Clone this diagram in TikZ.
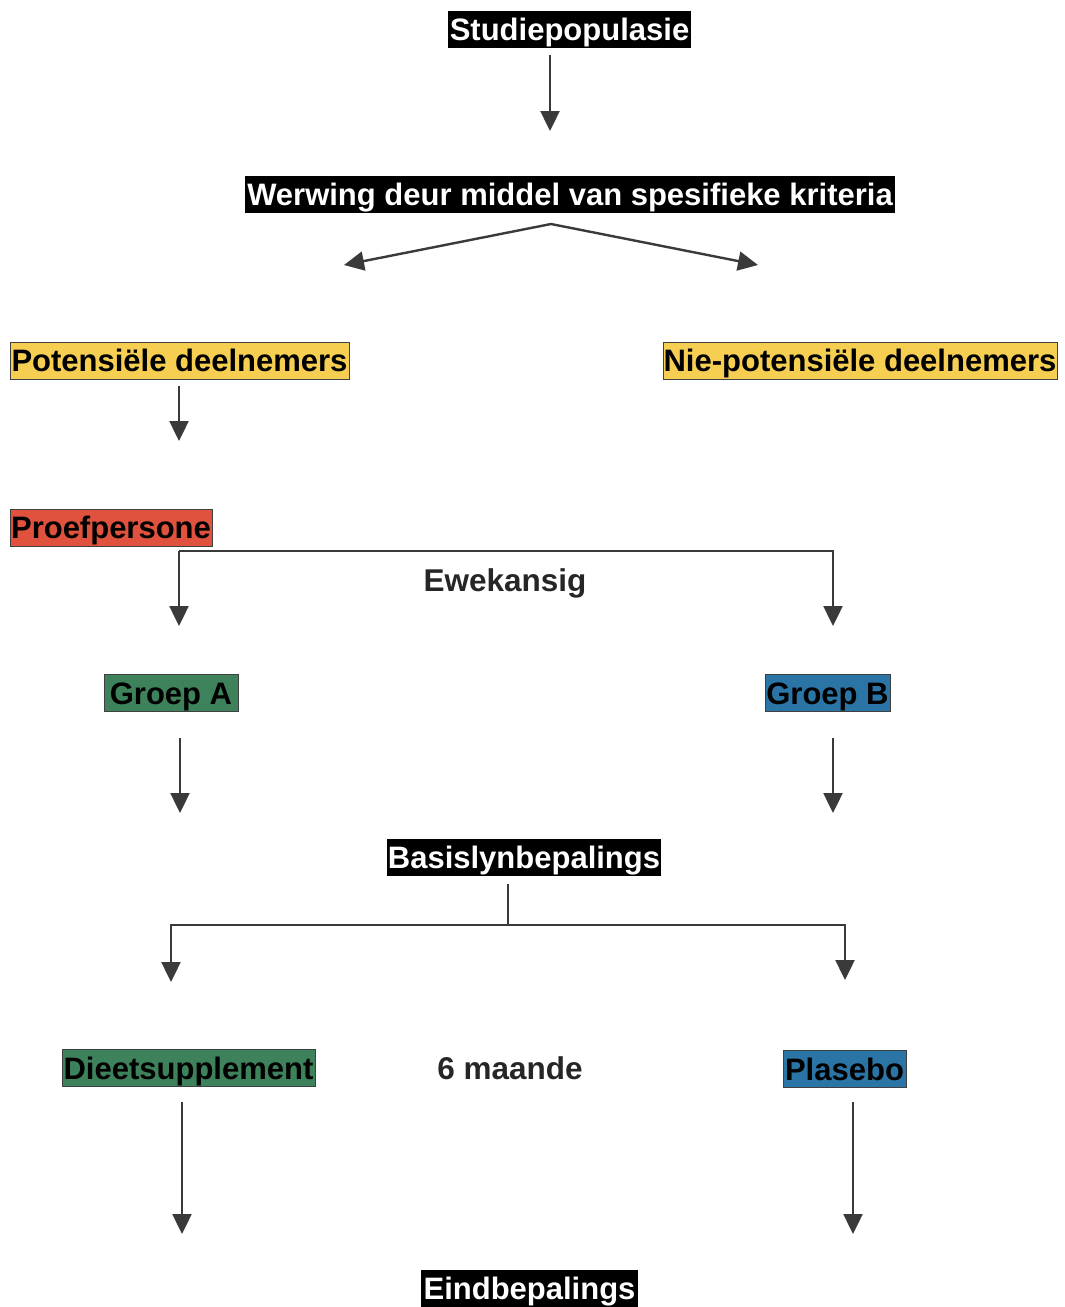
\documentclass[tikz,border=0pt]{standalone}
\usepackage{fontspec}
\setmainfont{Liberation Sans}
\usetikzlibrary{arrows.meta}
\definecolor{cyel}{RGB}{246,206,82}
\definecolor{cred}{RGB}{224,82,62}
\definecolor{cgrn}{RGB}{62,130,92}
\definecolor{cblu}{RGB}{42,116,166}
\definecolor{cline}{RGB}{58,58,58}
\tikzset{
  box/.style={inner sep=0pt, minimum height=37pt, font=\fontsize{31}{35}\selectfont\bfseries, text height=24pt, text depth=2pt},
  blk/.style={box, fill=black, text=white},
  col/.style={box, draw=black!75, line width=0.8pt, text=black},
  lbl/.style={inner sep=0pt, font=\fontsize{31.5}{35}\selectfont\bfseries, text=black!85},
  arr/.style={draw=cline, line width=2.4pt, -{Triangle[width=19pt,length=20pt]}},
  ln/.style={draw=cline, line width=2.4pt},
}
\begin{document}
\begin{tikzpicture}[x=1pt,y=-1pt]
\useasboundingbox (0,0) rectangle (1065,1307);
% nodes
\node[blk, minimum width=243pt] (stud) at (569.5,29) {Studiepopulasie};
\node[blk, minimum width=650pt] (werw) at (570,194.5) {Werwing deur middel van spesifieke kriteria};
\node[col, fill=cyel, minimum width=339pt] (pot) at (179.5,360.5) {Potensiële deelnemers};
\node[col, fill=cyel, minimum width=394pt] (nie) at (860,360.5) {Nie-potensiële deelnemers};
\node[col, fill=cred, minimum width=202pt] (proef) at (111,527.5) {Proefpersone};
\node[lbl] (ewe) at (505,583) {Ewekansig};
\node[col, fill=cgrn, minimum width=134pt] (grpA) at (171,693) {Groep A};
\node[col, fill=cblu, minimum width=125pt] (grpB) at (827.5,693) {Groep B};
\node[blk, minimum width=274pt] (basis) at (524,857) {Basislynbepalings};
\node[col, fill=cgrn, minimum width=253pt] (diet) at (188.5,1068) {Dieetsupplement};
\node[lbl] (maande) at (510,1068) {6 maande};
\node[col, fill=cblu, minimum width=123pt] (plas) at (844.5,1069) {Plasebo};
\node[blk, minimum width=217pt] (eind) at (529.5,1288.5) {Eindbepalings};
% connector points
\coordinate (s1) at (550,55);
\coordinate (t1) at (550,131);
\coordinate (apex) at (551,224);
\coordinate (tl) at (344,265);
\coordinate (tr) at (758,265);
\coordinate (s2) at (179,386);
\coordinate (t2) at (179,441);
\coordinate (sp) at (179,551);
\coordinate (tA) at (179,626);
\coordinate (tB) at (833,626);
\coordinate (sA) at (180,738);
\coordinate (eA) at (180,813);
\coordinate (sB) at (833,738);
\coordinate (eB) at (833,813);
\coordinate (bs) at (508,884);
\coordinate (bj) at (508,925);
\coordinate (tD) at (171,982);
\coordinate (tP) at (845,980);
\coordinate (sD) at (182,1102);
\coordinate (eD) at (182,1234);
\coordinate (sP) at (853,1102);
\coordinate (eP) at (853,1234);
% connectors
\draw[arr] (s1) -- (t1);
\draw[arr] (apex) -- (tl);
\draw[arr] (apex) -- (tr);
\draw[arr] (s2) -- (t2);
\draw[arr] (sp) -- (tA);
\draw[arr] (sp) -| (tB);
\draw[arr] (sA) -- (eA);
\draw[arr] (sB) -- (eB);
\draw[ln] (bs) -- (bj);
\draw[arr] (bj) -| (tD);
\draw[arr] (bj) -| (tP);
\draw[arr] (sD) -- (eD);
\draw[arr] (sP) -- (eP);
\end{tikzpicture}
\end{document}
